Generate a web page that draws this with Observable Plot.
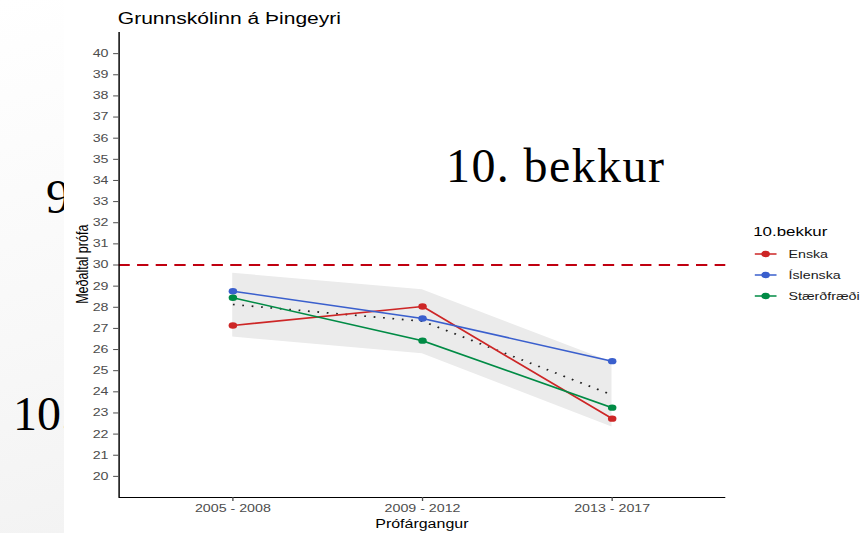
<!DOCTYPE html>
<html>
<head>
<meta charset="utf-8">
<script src="https://cdn.jsdelivr.net/npm/d3@7"></script>
<script src="https://cdn.jsdelivr.net/npm/@observablehq/plot@0.6"></script>
<style>
  html, body { margin: 0; padding: 0; background: #ffffff; overflow: hidden; }
  #page { position: relative; width: 861px; height: 533px; overflow: hidden;
          background: linear-gradient(165deg, #ffffff 0%, #f8f8f8 45%, #eeeeee 100%); }
  #slideText { position: absolute; left: 0; top: 0; }
  #whiteArea { position: absolute; left: 64px; top: 0; width: 797px; height: 533px; background: #ffffff; }
  #chart { position: absolute; left: 0; top: 0; width: 647px; height: 533px;
           transform: scaleX(1.3308); transform-origin: 0 0; font-family: "Liberation Sans", Arial, sans-serif; }
  #chart .lbl { position: absolute; line-height: 1; white-space: nowrap; color: #000; }
  #legend .row { position: absolute; left: 567px; height: 20px; display: flex; align-items: center;
                 font-size: 10.7px; color: #1a1a1a; white-space: nowrap; }
  #legend .row svg { display: block; margin-right: 9px; }
  #overlay { position: absolute; left: 0; top: 0; pointer-events: none; }
</style>
</head>
<body>
<div id="page">
  <svg id="slideText" width="861" height="533">
    <text x="46" y="213" font-family="'Liberation Serif', 'DejaVu Serif', serif" font-size="48" fill="#000">9</text>
    <text x="13" y="430" font-family="'Liberation Serif', 'DejaVu Serif', serif" font-size="48" fill="#000">10.</text>
  </svg>
  <div id="whiteArea"></div>
  <div id="chart"></div>
  <svg id="overlay" width="861" height="533">
    <text x="446" y="182" font-family="'Liberation Serif', 'DejaVu Serif', serif" font-size="48" letter-spacing="1.4" fill="#000">10. bekkur</text>
  </svg>
</div>
<script>
// ---- data ----
const periods = ["2005 - 2008", "2009 - 2012", "2013 - 2017"];
const subjects = ["Enska", "Íslenska", "Stærðfræði"];
const subjectColors = ["#CD2626", "#3A5FCD", "#008B45"];
const enska = [27.14, 28.04, 22.73];
const islenska = [28.76, 27.47, 25.45];
const staerdfraedi = [28.45, 26.42, 23.25];
const meanScore = [28.13, 27.34, 23.85];
const bandLow = [26.59, 25.80, 22.33];
const bandHigh = [29.61, 28.83, 25.40];
const referenceLine = [30];
const yTicks = [20, 21, 22, 23, 24, 25, 26, 27, 28, 29, 30, 31, 32, 33, 34, 35, 36, 37, 38, 39, 40];
const yDomain = [19, 41];
const titleText = "Grunnskólinn á Þingeyri";
const xTitle = "Prófárgangur";
const yTitle = "Meðaltal prófa";
const legendTitle = "10.bekkur";

// ---- tables built from the arrays ----
const series = [enska, islenska, staerdfraedi];
const xIndex = periods.map((p, i) => i + 1);
const xDomain = [xIndex[0] - 0.6, xIndex[xIndex.length - 1] + 0.6];
const rows = [];
subjects.forEach((s, k) => series[k].forEach((v, i) => rows.push({subject: s, x: xIndex[i], v})));
const meanRows = meanScore.map((v, i) => ({x: xIndex[i], v}));
const bandRows = bandLow.map((lo, i) => ({x: xIndex[i], lo, hi: bandHigh[i]}));

const chart = Plot.plot({
  width: 647,
  height: 533,
  marginLeft: 89,
  marginRight: 102,
  marginTop: 32,
  marginBottom: 36,
  style: {background: "transparent", fontFamily: "'Liberation Sans', Arial, sans-serif", fontSize: "10.7px"},
  x: {domain: xDomain, axis: null},
  y: {domain: yDomain, axis: null},
  color: {domain: subjects, range: subjectColors},
  marks: [
    Plot.areaY(bandRows, {x: "x", y1: "lo", y2: "hi", fill: "#EBEBEB"}),
    Plot.line(meanRows, {x: "x", y: "v", stroke: "#222222", strokeWidth: 1.7, strokeDasharray: "1.3,5.8", strokeLinecap: "butt"}),
    Plot.ruleY(referenceLine, {stroke: "#C00010", strokeWidth: 2, strokeDasharray: "8.5,5.5"}),
    Plot.line(rows, {x: "x", y: "v", z: "subject", stroke: "subject", strokeWidth: 1.6}),
    Plot.dot(rows, {x: "x", y: "v", fill: "subject", r: 3.2}),
    Plot.ruleY([yDomain[0]], {stroke: "#000", strokeWidth: 1.1}),
    Plot.ruleX([xDomain[0]], {stroke: "#000", strokeWidth: 1.1}),
    Plot.axisX({ticks: xIndex, tickFormat: (d) => periods[d - 1], tickSize: 4, tickPadding: 2.5,
                color: "#4D4D4D", label: null}),
    Plot.axisY({ticks: yTicks, tickFormat: (d) => String(d), tickSize: 4, tickPadding: 4,
                color: "#4D4D4D", label: null})
  ]
});

const holder = document.getElementById("chart");
chart.style.position = "absolute";
chart.style.left = "0px";
chart.style.top = "0px";
holder.appendChild(chart);

function addLabel(text, css) {
  const d = document.createElement("div");
  d.className = "lbl";
  d.textContent = text;
  Object.assign(d.style, css);
  holder.appendChild(d);
  return d;
}
// title (baseline ~24)
addLabel(titleText, {left: "88.5px", top: "10.6px", fontSize: "15.8px", color: "#000"});
// x axis title
addLabel(xTitle, {left: "89px", width: "456px", textAlign: "center", top: "517.8px", fontSize: "12px"});
// y axis title (rotated)
addLabel(yTitle, {left: "-37.6px", width: "200px", textAlign: "center", top: "257.8px", fontSize: "12.5px",
                  transform: "rotate(-90deg)", transformOrigin: "100px 6.25px"});

// legend
const legend = document.createElement("div");
legend.id = "legend";
holder.appendChild(legend);
const lt = document.createElement("div");
lt.className = "lbl";
lt.textContent = legendTitle;
Object.assign(lt.style, {left: "566px", top: "226.2px", fontSize: "12.7px", color: "#000"});
legend.appendChild(lt);
const rowCenters = [254.2, 275.4, 296.4];
subjects.forEach((s, k) => {
  const r = document.createElement("div");
  r.className = "row";
  r.style.top = (rowCenters[k] - 10) + "px";
  r.innerHTML = `<svg width="16.5" height="20"><line x1="0" x2="16.5" y1="10" y2="10" stroke="${subjectColors[k]}" stroke-width="1.6"/><circle cx="8.25" cy="10" r="3.2" fill="${subjectColors[k]}"/></svg><span>${s}</span>`;
  legend.appendChild(r);
});
</script>
</body>
</html>
